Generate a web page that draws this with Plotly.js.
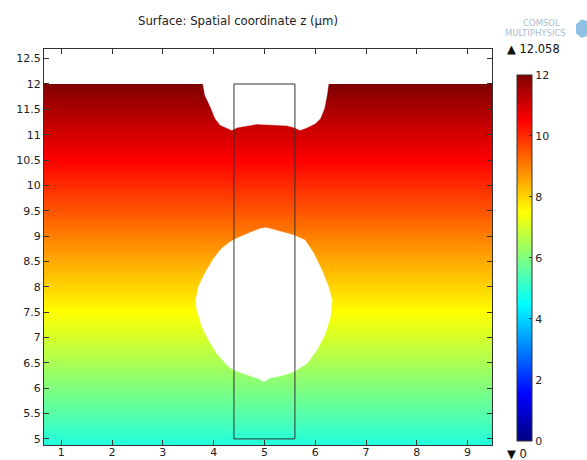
<!DOCTYPE html>
<html>
<head>
<meta charset="utf-8">
<script src="https://cdn.plot.ly/plotly-3.0.1.min.js"></script>
<style>html,body{margin:0;padding:0;background:#fff;}#chart{width:587px;height:460px;}</style>
</head>
<body>
<div id="chart"></div>
<script>
// ---- data ----
// sample heights of the surface; the plotted quantity is the z coordinate itself
const gridY = [4.5, 5, 5.5, 6, 6.5, 7, 7.5, 8, 8.5, 9, 9.5, 10, 10.5, 11, 11.5, 12, 12.5];
const gridX = [0.5, 9.6];
const domainTop = 12;
const surfaceMax = 12.058;
const surfaceMin = 0;

// upper void (boundary points)
const topVoidX = [3.79, 3.83, 3.95, 4.03, 4.13, 4.26, 4.36, 4.46, 4.66, 4.85, 5.02, 5.18, 5.44, 5.59, 5.70, 5.84, 6.00, 6.10, 6.18, 6.23, 6.26];
const topVoidY = [12.0, 11.78, 11.52, 11.32, 11.19, 11.13, 11.09, 11.14, 11.18, 11.21, 11.20, 11.19, 11.18, 11.14, 11.09, 11.14, 11.22, 11.32, 11.52, 11.78, 12.0];

// lower (round) void
const midVoidX = [5.02, 5.57, 5.80, 5.97, 6.13, 6.26, 6.33, 6.30, 6.20, 6.03, 5.84, 5.59, 5.38, 5.11, 5.00, 4.85, 4.59, 4.39, 4.26, 4.06, 3.90, 3.77, 3.67, 3.65, 3.70, 3.83, 4.00, 4.16, 4.33, 4.46, 4.72, 4.92];
const midVoidY = [9.17, 9.02, 8.92, 8.66, 8.33, 8.00, 7.74, 7.41, 7.08, 6.75, 6.49, 6.33, 6.26, 6.20, 6.13, 6.20, 6.29, 6.36, 6.46, 6.69, 6.95, 7.21, 7.54, 7.74, 8.00, 8.27, 8.56, 8.76, 8.89, 8.96, 9.07, 9.15];

// pillar outline
const rectX = [4.4, 4.4, 5.6, 5.6, 4.4];
const rectY = [5.0, 12.0, 12.0, 5.0, 5.0];

const xTicks = [1, 2, 3, 4, 5, 6, 7, 8, 9];
const yTicks = [5, 5.5, 6, 6.5, 7, 7.5, 8, 8.5, 9, 9.5, 10, 10.5, 11, 11.5, 12, 12.5];
const cbTicks = [0, 2, 4, 6, 8, 10, 12];

// ---- build ----
const zRows = gridY.map(v => gridX.map(() => v));
const jet = [[0, 'rgb(0,0,128)'], [0.125, 'rgb(0,0,255)'], [0.375, 'rgb(0,255,255)'],
             [0.625, 'rgb(255,255,0)'], [0.875, 'rgb(255,0,0)'], [1, 'rgb(128,0,0)']];
const FONT = 'DejaVu Sans, Verdana, sans-serif';

const traces = [
  {
    type: 'heatmap', x: gridX, y: gridY, z: zRows, zsmooth: 'best',
    zmin: surfaceMin, zmax: 12, colorscale: jet, hoverinfo: 'skip',
    colorbar: {
      x: 1.0558, xanchor: 'left', xpad: 0, y: 0.4726, yanchor: 'middle', ypad: 0,
      len: 366, lenmode: 'pixels', thickness: 15, thicknessmode: 'pixels',
      outlinewidth: 1, outlinecolor: '#333',
      tickmode: 'array', tickvals: cbTicks, ticks: 'inside', ticklen: 3, tickcolor: '#333',
      ticklabelstandoff: 3,
      tickfont: {family: FONT, size: 11, color: '#222'}
    }
  },
  { // empty space above the domain
    type: 'scatter', mode: 'lines', x: [0.5, 9.6, 9.6, 0.5, 0.5],
    y: [domainTop, domainTop, 13, 13, domainTop], fill: 'toself', fillcolor: '#fff',
    line: {width: 0, color: '#fff'}, hoverinfo: 'skip'
  },
  {
    type: 'scatter', mode: 'lines', x: topVoidX, y: topVoidY, fill: 'toself', fillcolor: '#fff',
    line: {width: 0.5, color: '#fff'}, hoverinfo: 'skip'
  },
  {
    type: 'scatter', mode: 'lines', x: midVoidX, y: midVoidY, fill: 'toself', fillcolor: '#fff',
    line: {width: 0.5, color: '#fff'}, hoverinfo: 'skip'
  },
  {
    type: 'scatter', mode: 'lines', x: rectX, y: rectY,
    line: {width: 1, color: '#333'}, hoverinfo: 'skip'
  }
];

const axisCommon = {
  ticks: 'inside', ticklen: 5, tickcolor: '#333', mirror: 'ticks', showline: true,
  linecolor: '#333', linewidth: 1, showgrid: false, zeroline: false,
  tickfont: {family: FONT, size: 11, color: '#222'}, fixedrange: true
};

const layout = {
  width: 587, height: 460,
  margin: {l: 44, r: 95, t: 49, b: 15},
  paper_bgcolor: '#fff', plot_bgcolor: '#fff', showlegend: false,
  font: {family: FONT, size: 11, color: '#222'},
  title: {text: 'Surface: Spatial coordinate z (μm)', x: 238 / 587, xanchor: 'center',
          xref: 'container', y: 1 - 20.7 / 460, yanchor: 'middle', yref: 'container',
          font: {family: FONT, size: 11.7, color: '#222'}},
  xaxis: Object.assign({}, axisCommon, {range: [0.66, 9.48], tickmode: 'array', tickvals: xTicks,
                                         ticklabelstandoff: -3}),
  yaxis: Object.assign({}, axisCommon, {range: [4.88, 12.69], tickmode: 'array', tickvals: yTicks}),
  annotations: [
    {xref: 'paper', yref: 'paper', x: 1.029, y: 1.0, xanchor: 'left', yanchor: 'middle',
     text: '▲ ' + surfaceMax.toFixed(3), showarrow: false, font: {family: FONT, size: 11.5, color: '#111'}},
    {xref: 'paper', yref: 'paper', x: 1.029, y: -0.0227, xanchor: 'left', yanchor: 'middle',
     text: '▼ ' + surfaceMin, showarrow: false, font: {family: FONT, size: 11.5, color: '#111'}},
    {xref: 'paper', yref: 'paper', x: 1.1116, y: 1.0657, xanchor: 'center', yanchor: 'middle',
     text: 'COMSOL', showarrow: false, font: {family: FONT, size: 8.5, color: '#aabdd0'}},
    {xref: 'paper', yref: 'paper', x: 1.098, y: 1.0404, xanchor: 'center', yanchor: 'middle',
     text: 'MULTIPHYSICS', showarrow: false, font: {family: FONT, size: 8.5, color: '#aabdd0'}}
  ],
  shapes: [
    {type: 'path', xref: 'paper', yref: 'paper', layer: 'above',
     path: 'M 1.1875 1.062 L 1.200 1.075 L 1.215 1.070 L 1.215 1.035 L 1.200 1.028 L 1.1875 1.040 Z',
     fillcolor: '#8ec0e4', line: {width: 0}}
  ]
};

Plotly.newPlot('chart', traces, layout, {displayModeBar: false, staticPlot: true});
</script>
</body>
</html>
